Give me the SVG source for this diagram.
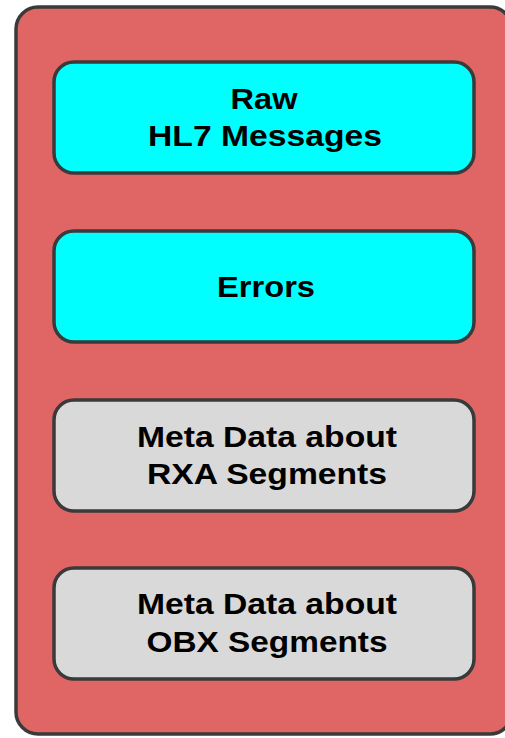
<svg xmlns="http://www.w3.org/2000/svg" width="505" height="738" viewBox="0 0 505 738">
<style>
.box{stroke:#3a3a3a;stroke-width:3.5}
.cyan{fill:#00FFFF}
.gray{fill:#D9D9D9}
.t{font-family:"Liberation Sans",Arial,sans-serif;font-weight:bold;font-size:29px;fill:#000;text-anchor:middle}
</style>
<rect width="505" height="738" fill="#FFFFFF"/>
<g id="container">
<rect x="16" y="7" width="496" height="727" rx="22" ry="22" fill="#E06666" stroke="#3a3a3a" stroke-width="3.5"/>
</g>
<g id="connectors"></g>
<g id="raw">
<rect class="box cyan" x="54" y="62" width="420" height="111" rx="20" ry="20"/>
<text class="t" x="264" y="109" textLength="67" lengthAdjust="spacingAndGlyphs">Raw</text>
<text class="t" x="265" y="146" textLength="234" lengthAdjust="spacingAndGlyphs">HL7 Messages</text>
</g>
<g id="errors">
<rect class="box cyan" x="54" y="231" width="420" height="111" rx="20" ry="20"/>
<text class="t" x="266" y="297" textLength="98" lengthAdjust="spacingAndGlyphs">Errors</text>
</g>
<g id="rxa">
<rect class="box gray" x="54" y="400" width="420" height="111" rx="20" ry="20"/>
<text class="t" x="267" y="447" textLength="260" lengthAdjust="spacingAndGlyphs">Meta Data about</text>
<text class="t" x="267" y="484" textLength="240" lengthAdjust="spacingAndGlyphs">RXA  Segments</text>
</g>
<g id="obx">
<rect class="box gray" x="54" y="568" width="420" height="111" rx="20" ry="20"/>
<text class="t" x="267" y="614" textLength="260" lengthAdjust="spacingAndGlyphs">Meta Data about</text>
<text class="t" x="267" y="652" textLength="241" lengthAdjust="spacingAndGlyphs">OBX  Segments</text>
</g>
</svg>
